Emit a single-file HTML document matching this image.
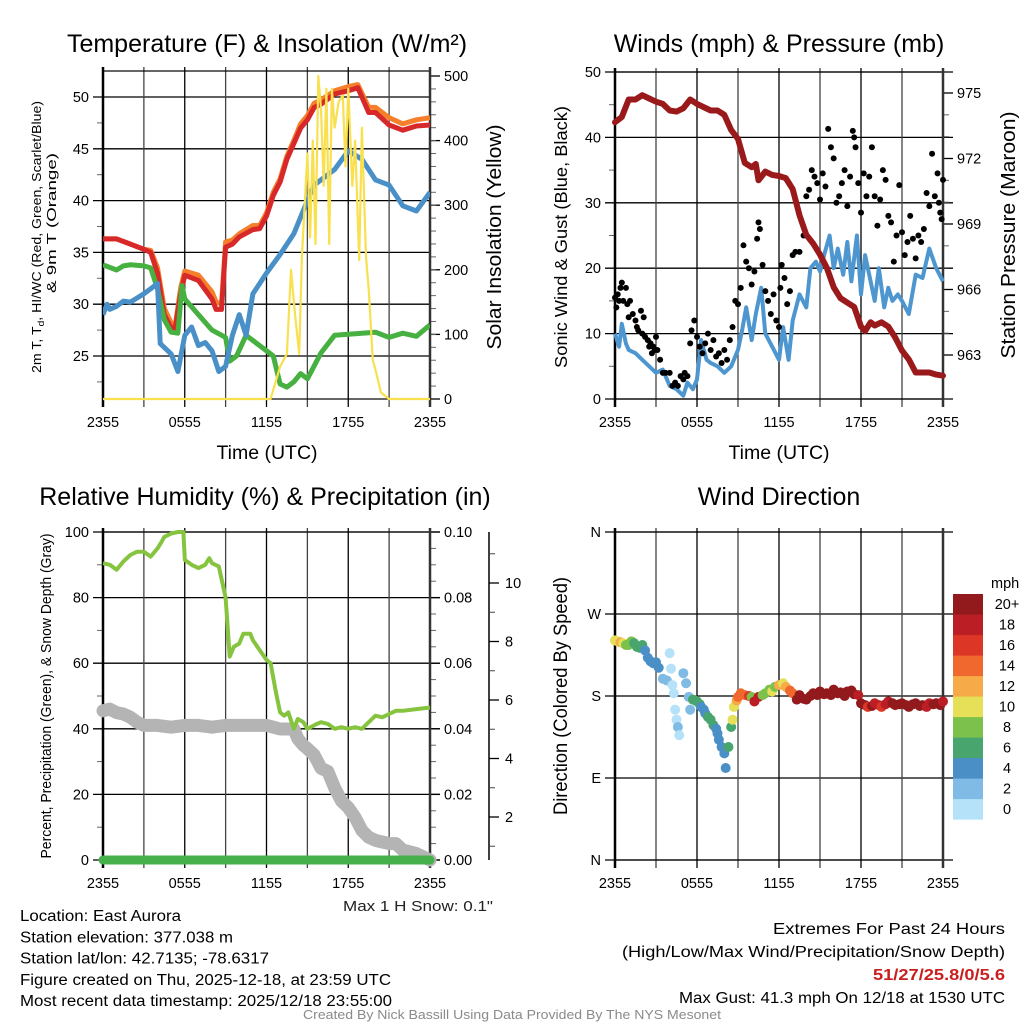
<!DOCTYPE html>
<html><head><meta charset="utf-8"><style>
html,body{margin:0;padding:0;background:#fff;}
svg{display:block;font-family:"Liberation Sans",sans-serif;}
</style></head><body>
<svg id="c" width="1024" height="1024" viewBox="0 0 1024 1024" xmlns="http://www.w3.org/2000/svg"></svg>
<script>
// ===== Panel 1 data: temperature (F) & solar =====
const tHours = [0,1,2,3,3.5,4,4.5,5,5.3,5.7,6,7,8,8.3,8.7,9,9.5,10,11,11.5,12,12.5,13,13.5,14,14.5,15,15.5,16,17,18,18.7,19.5,20,21,22,23,24];
const tempRed = [36.3,36.3,35.8,35.3,35.0,33.0,29.0,27.7,27.7,31.0,32.8,32.3,30.5,29.5,29.5,35.5,35.8,36.5,37.2,37.3,38.5,40.5,41.8,44.0,45.5,47.0,47.8,49.0,49.3,50.3,50.6,50.9,48.5,48.5,47.3,46.8,47.2,47.3];
const tempOrange = [36.3,36.3,35.8,35.3,35.2,33.5,29.6,28.2,27.9,31.6,33.2,32.8,31.2,30.2,30.0,36.0,36.2,36.8,37.6,37.6,38.8,40.8,42.1,44.3,45.8,47.4,48.2,49.4,49.7,50.6,51.0,51.2,49.0,49.0,48.0,47.4,47.8,48.0];
const dewHours = [0,1,1.5,2,3,3.5,4,4.5,5,5.5,5.8,6,7,8,9,9.3,9.8,10.5,11,12,12.5,13,13.5,14,14.5,15,16,17,18,19,20,21,22,23,24];
const dewGreen = [33.8,33.3,33.7,33.8,33.7,33.5,31.5,28.5,27.3,27.2,31.8,30.5,29.0,27.5,26.8,24.5,25.0,27.0,26.5,25.5,25.0,22.3,22.0,22.5,23.3,22.8,25.3,27.0,27.1,27.2,27.3,26.8,27.2,26.9,28.0];
const wcHours = [0,0.3,0.5,1,1.5,2,2.5,3,3.5,4,4.2,5,5.5,6,6.5,7,7.5,8,8.5,9,9.5,10,10.5,11,11.5,12,13,14,15,15.5,16,17,18,19,20,21,22,23,24];
const wcBlue = [29.0,30.0,29.5,29.8,30.3,30.2,30.6,31.0,31.5,32.0,26.2,25.2,23.5,27.0,27.8,26.0,26.3,25.5,23.5,24.0,27.0,29.0,27.0,31.0,32.0,33.0,34.8,36.8,40.0,41.5,42.0,43.0,44.8,44.0,42.0,41.5,39.5,39.0,40.8];
const solHours = [0,12.3,13,13.5,13.8,14.1,14.4,14.6,15,15.2,15.4,15.6,15.8,16,16.2,16.4,16.6,16.8,17,17.3,17.6,17.8,18,18.3,18.5,18.8,19,19.3,19.5,19.8,20,20.4,21,24];
const solar = [0,0,50,70,200,130,70,220,380,250,400,240,500,450,330,480,240,480,420,460,470,360,480,330,400,215,420,220,170,60,45,10,0,0];
// ===== Panel 2 data: wind & pressure =====
const pHours = [0,0.5,1,1.5,2,2.5,3,3.5,4,4.5,5,5.5,6,7,7.5,8,8.5,9,9.5,10,10.3,10.5,11,11.5,12,12.5,13,13.5,14,14.5,15,15.5,16,16.5,17,17.5,18,18.3,18.7,19,19.5,20,20.5,21,21.5,22,22.5,23,23.5,24];
const pressure = [973.66,973.9,974.7,974.7,974.9,974.75,974.6,974.5,974.2,974.15,974.3,974.7,974.5,974.2,974.2,974.0,973.3,972.9,971.8,971.6,971.75,971.0,971.4,971.25,971.2,971.1,970.6,969.4,968.5,968.1,967.6,967.0,966.1,965.6,965.4,965.2,964.3,964.1,964.5,964.35,964.5,964.3,963.8,963.2,962.8,962.2,962.2,962.2,962.1,962.05];
const windHours = [0,0.3,0.5,0.8,1,1.5,2,2.5,3,3.5,4,4.5,5,5.3,5.7,6,6.3,6.7,7,7.5,8,8.5,9,9.3,9.6,10,10.3,10.7,11,11.5,12,12.3,12.7,13,13.5,14,14.3,14.7,15,15.3,15.7,16,16.3,16.7,17,17.3,17.7,18,18.3,18.7,19,19.3,19.7,20,20.3,20.7,21,21.5,22,22.5,23,23.5,24];
const windSpeed = [10,8,11.5,8.5,7.5,7,6,5,4,4.5,2,1.5,0.5,2.5,1.5,3,9,6,5.5,5,4,5,7.5,10.5,14,9,13,17,10,8,6,11,6,12,16,14,20,21,19.5,22,25,20,23,19,24,18,25,16,22,18,15,20,14,17,15,16,15,13,19,18.5,23,20,18];
const gustHours = [0,0.1,0.2,0.3,0.4,0.5,0.6,0.8,0.9,1,1.1,1.3,1.5,1.6,1.7,1.9,2,2.1,2.2,2.4,2.5,2.6,2.7,2.8,2.9,3,3.1,3.3,3.5,3.7,4,4.2,4.4,4.6,4.8,5,5.1,5.3,5.5,5.6,5.8,6,6.2,6.4,6.6,6.8,7,7.2,7.4,7.6,7.8,8,8.2,8.4,8.6,8.8,9,9.2,9.4,9.6,9.8,10,10.2,10.4,10.5,10.6,10.8,11,11.2,11.4,11.6,11.8,12,12.1,12.2,12.4,12.6,12.8,13,13.2,13.5,13.8,14,14.2,14.4,14.6,14.8,15,15.2,15.4,15.6,15.8,16,16.2,16.4,16.6,16.8,17,17.2,17.4,17.5,17.6,17.8,18,18.2,18.4,18.6,18.8,19,19.2,19.4,19.6,19.8,20,20.2,20.4,20.6,20.8,21,21.2,21.4,21.6,21.8,22,22.2,22.4,22.6,22.8,23,23.2,23.4,23.6,23.8,24,23.9,23.7];
const gustSpeed = [15.5,14,16,15,17,17.8,15,17,14.5,12.5,15,13,12,11,10.5,13.5,10,12.5,9.5,9,8,8.5,7,8,7.5,9.5,7.5,6,4,4,4,2,2.5,2,3.5,3,4,3.5,8.5,10.5,12,9.5,8,7,8.5,10,7.5,9,6.5,7,5.5,7.5,6,9,11,15,14.5,17,23.5,21,20,17.5,19.5,24.5,27,26,20.5,16.5,15,13,16,12,11,17,20.5,18.5,14.5,16.5,22,22.5,22.5,25,31,32,35,34,33,30.5,34.5,32.5,41.3,38.5,36.8,30,31,33,35,29.5,34,41,40,38.5,33,28.5,34.5,31,34,38.5,31,26.5,30.5,35,33.5,28,27,21,25,32.7,25.5,22,24,28,24.5,21.5,25,24,26,31.5,29.5,37.5,31,34.5,28.5,33.5,27.5,30];
// ===== Panel 3 data: RH, precip, snow depth =====
const rhHours = [0,0.5,1,1.5,2,2.5,3,3.5,4,4.3,4.5,5,5.5,5.9,6,6.5,7,7.5,7.8,8,8.5,9,9.3,9.6,10,10.3,10.8,11,11.5,12,12.3,12.7,13,13.3,13.6,14,14.3,14.7,15,15.7,16,16.5,17,17.5,18,18.5,19,19.5,20,20.5,21,21.5,22,23,24];
const rh = [90.5,90,88.5,91,93,94,94,92.5,95,97,98.5,99.5,100,100,91.5,90,89,90,92,90.5,89.5,80,62,65,66,69,69,67,64,61,60,51,45,44,45,40,43,42,40,41.5,42,41.5,40,40.5,40,40.5,40,42,44,43.5,44.5,45.5,45.5,46,46.5];
const snowHours = [0,0.5,1,1.5,2,2.5,3,4,5,6,7,8,9,10,11,12,12.5,13,14,14.3,14.7,15,15.5,16,16.5,17,17.5,18,18.5,19,19.5,20,21,21.5,22,23,24];
const snowDepth = [5.63,5.69,5.57,5.52,5.41,5.24,5.13,5.13,5.07,5.13,5.13,5.07,5.13,5.13,5.13,5.13,5.07,5.01,5.01,4.68,4.45,4.34,4.12,3.67,3.56,3.0,2.55,2.32,1.99,1.54,1.31,1.2,1.09,1.09,0.87,0.75,0.53];
const precipHours = [0,24];
const precip = [0,0];
// ===== Panel 4 data: wind direction (deg) colored by speed =====
const dirHours = [0,0.2,0.4,0.6,0.8,1,1.2,1.4,1.6,1.8,2,2.2,2.4,2.6,2.8,3,3.2,3.5,3.8,4,4.1,4.2,4.3,4.4,4.5,4.6,4.7,5,5.2,5.4,5.5,5.7,5.9,6,6.2,6.3,6.5,6.6,6.8,7,7.2,7.4,7.5,7.6,7.8,8,8.1,8.3,8.5,8.6,8.7,8.9,9,9.2,9.5,9.8,10,10.2,10.5,10.8,11,11.3,11.5,11.7,12,12.3,12.5,12.8,13,13.3,13.5,13.8,14,14.3,14.5,14.8,15,15.3,15.5,15.8,16,16.3,16.5,16.8,17,17.3,17.5,17.8,18,18.3,18.5,18.8,19,19.3,19.5,19.8,20,20.3,20.5,20.8,21,21.3,21.5,21.8,22,22.3,22.5,22.8,23,23.3,23.5,23.8,24];
const dirDeg = [241,240,239,238,236,236,240,238,234,233,236,230,222,218,216,217,211,199,197,227,210,192,183,165,154,146,137,205,194,179,165,176,175,174,171,168,165,161,157,154,148,144,139,132,124,117,101,124,146,154,168,175,179,183,181,180,179,174,179,181,183,187,185,190,192,194,190,186,183,176,181,177,176,180,183,181,185,182,183,181,187,183,184,180,185,186,182,181,172,170,168,169,172,170,168,171,174,172,170,171,172,170,168,171,172,169,170,168,172,171,172,170,174];
const dirSpeed = [10,10,12,11,9,8,8,7,6,7,6,5,4,4,4,4,4,3,3,0,0,1,1,1,0,2,0,2,2,2,3,6,7,7,6,4,5,5,6,6,6,4,4,4,4,4,4,6,6,10,10,12,14,15,15,16,8,18,18,8,9,8,10,9,12,10,12,14,15,20,20,20,20,20,20,20,20,20,20,20,20,20,20,20,20,20,20,18,20,20,16,20,18,18,16,18,18,20,20,20,20,20,20,20,20,20,20,18,18,20,20,20,18];
const speedColors = ['#b5e2f8','#7fbbe4','#4a8fc6','#48a56e','#7bc14b','#e5e057','#f6aa48','#f0682d','#dc3627','#bb1e25','#921a1c'];
const speedLabels = ['0','2','4','6','8','10','12','14','16','18','20+'];
const timeLabels = ['2355','0555','1155','1755','2355'];

const NS = 'http://www.w3.org/2000/svg';
const svg = document.getElementById('c');
function mk(tag, attrs, parent, text){
  const e = document.createElementNS(NS, tag);
  for (const k in attrs) e.setAttribute(k, attrs[k]);
  if (text !== undefined) e.textContent = text;
  (parent || svg).appendChild(e);
  return e;
}
function lin(d0,d1,r0,r1){ return v => r0 + (v-d0)*(r1-r0)/(d1-d0); }
function pathD(xs, ys, fx, fy){ return xs.map((h,i)=>(i?'L':'M')+fx(h).toFixed(1)+','+fy(ys[i]).toFixed(1)).join(''); }

function frame(g, x0, x1, y0, y1, xLabels){
  const fx = lin(0,24,x0,x1);
  for (let h=0; h<=24; h+=3){
    const l = mk('line',{x1:fx(h),x2:fx(h),y1:y0-4,y2:y1+8,stroke:(h%6===0?'#000':'#444'),'stroke-width':1.3},g);
    
    
  }
  if (xLabels){
    timeLabels.forEach((t,i)=>{
      const tx = mk('text',{x:fx(i*6),y:y1+28,'text-anchor':'middle','font-size':14.5},g,t);
      
      
    });
  }
  const b = mk('rect',{x:x0,y:y0,width:x1-x0,height:y1-y0,fill:'none',stroke:'#000','stroke-width':1.2},g);
  
  
  mk('line',{x1:x0,x2:x0,y1:y0-4,y2:y1+8,stroke:'#000','stroke-width':2.5},g);
  mk('line',{x1:x1,x2:x1,y1:y0-4,y2:y1+8,stroke:'#333','stroke-width':2.5},g);
  return fx;
}
function yAxis(g, x0, x1, fy, ticks, labels, side, minor, gridOn){
  ticks.forEach((v,i)=>{
    const y = fy(v);
    if (side==='left'){
      mk('line',{x1:x0-10,x2:gridOn? x1+ (gridOn===2?10:0):x0,y1:y,y2:y,stroke:'#000','stroke-width':1.3},g);
      const t = mk('text',{x:x0-14,y:y+5,'text-anchor':'end','font-size':14.5},g,labels[i]);
      
      
    } else {
      mk('line',{x1:x1,x2:x1+10,y1:y,y2:y,stroke:'#000','stroke-width':1.3},g);
      const t = mk('text',{x:x1+14,y:y+5,'text-anchor':'start','font-size':14.5},g,labels[i]);
      
      
    }
  });
  (minor||[]).forEach(v=>{
    const y = fy(v);
    if (side==='left') mk('line',{x1:x0-6,x2:x0,y1:y,y2:y,stroke:'#666','stroke-width':1},g);
    else mk('line',{x1:x1,x2:x1+6,y1:y,y2:y,stroke:'#666','stroke-width':1},g);
  });
}
function title(x,y,txt,name){
  const t = mk('text',{x:x,y:y,'text-anchor':'middle','font-size':25},svg,txt);
  
  
  return t;
}
function vlabel(x,y,txt,size,name,len){
  const a = {x:0,y:0,'text-anchor':'middle','font-size':size,transform:`translate(${x},${y}) rotate(-90)`};
  if (len){ a.textLength=len; a.lengthAdjust='spacingAndGlyphs'; }
  const t = mk('text',a,svg,txt);
  
  
  return t;
}
function range(a,b,s){ const r=[]; for(let v=a; v<=b+1e-9; v+=s) r.push(+v.toFixed(4)); return r; }

// ---------- Panel 1 ----------
{
  const g = mk('g',{});
  
  
  const x0=103,x1=430,y0=71,y1=399;
  const fyT = lin(25,50,356,97);
  const fyS = lin(0,500,399,76);
  yAxis(g,x0,x1,fyT,[25,30,35,40,45,50],['25','30','35','40','45','50'],'left',[22.5,27.5,32.5,37.5,42.5,47.5],true);
  yAxis(g,x0,x1,fyS,[0,100,200,300,400,500],['0','100','200','300','400','500'],'right',range(20,480,20));
  const fx = frame(g,x0,x1,y0,y1,true);
  const clip = mk('clipPath',{id:'cp1'},g); mk('rect',{x:x0,y:y0,width:x1-x0,height:y1-y0},clip);
  const d = mk('g',{'clip-path':'url(#cp1)'},g);
  const s1 = mk('path',{d:pathD(tHours,tempOrange,fx,fyT),fill:'none',stroke:'#f57f2a','stroke-width':5,'stroke-linejoin':'round'},d);
   
  const s2 = mk('path',{d:pathD(tHours,tempRed,fx,fyT),fill:'none',stroke:'#d7282a','stroke-width':5,'stroke-linejoin':'round'},d);
   
  const s3 = mk('path',{d:pathD(dewHours,dewGreen,fx,fyT),fill:'none',stroke:'#46b040','stroke-width':5,'stroke-linejoin':'round'},d);
   
  const s4 = mk('path',{d:pathD(wcHours,wcBlue,fx,fyT),fill:'none',stroke:'#4a90c8','stroke-width':5,'stroke-linejoin':'round'},d);
   
  const s5 = mk('path',{d:pathD(solHours,solar,fx,fyS),fill:'none',stroke:'#f8e04f','stroke-width':2.2,'stroke-linejoin':'round'},g);
   
  title(267,52,'Temperature (F) & Insolation (W/m²)','temperature-title');
  const xt = mk('text',{x:267,y:459,'text-anchor':'middle','font-size':19.5},svg,'Time (UTC)');
   
  const yl = mk('text',{x:0,y:0,'text-anchor':'middle','font-size':12.5,textLength:272,lengthAdjust:'spacingAndGlyphs',transform:'translate(41,237) rotate(-90)'},svg);
   
  mk('tspan',{},yl,'2m T, T');
  mk('tspan',{'font-size':9,dy:3},yl,'d');
  mk('tspan',{dy:-3},yl,', HI/WC (Red, Green, Scarlet/Blue)');
  vlabel(56,223,'& 9m T (Orange)',12.5,'y-axis-title-line2',140);
  vlabel(501,237,'Solar Insolation (Yellow)',20.5,'y2-axis-title',225);
}
// ---------- Panel 2 ----------
{
  const g = mk('g',{});
  
  
  const x0=615,x1=943,y0=72,y1=399;
  const fyW = lin(0,50,399,72);
  const fyP = lin(963,975,355,93);
  yAxis(g,x0,x1,fyW,[0,10,20,30,40,50],['0','10','20','30','40','50'],'left',[5,15,25,35,45],2);
  yAxis(g,x0,x1,fyP,[963,966,969,972,975],['963','966','969','972','975'],'right',[964,965,967,968,970,971,973,974]);
  const fx = frame(g,x0,x1,y0,y1,true);
  const s1 = mk('path',{d:pathD(windHours,windSpeed,fx,fyW),fill:'none',stroke:'#4d96d0','stroke-width':4,'stroke-linejoin':'round'},g);
   
  gustHours.forEach((h,i)=>{
    const c = mk('circle',{cx:fx(h),cy:fyW(gustSpeed[i]),r:3,fill:'#000'},g);
    
    
  });
  const s2 = mk('path',{d:pathD(pHours,pressure,fx,fyP),fill:'none',stroke:'#9a1a1b','stroke-width':6,'stroke-linejoin':'round','stroke-linecap':'round'},g);
   
  title(779,52,'Winds (mph) & Pressure (mb)','winds-title');
  const xt = mk('text',{x:779,y:459,'text-anchor':'middle','font-size':19.5},svg,'Time (UTC)');
   
  vlabel(567,237,'Sonic Wind & Gust (Blue, Black)',17.5,'y-axis-title-winds',262);
  vlabel(1015,235,'Station Pressure (Maroon)',20.5,'y2-axis-title-pressure',247);
}
// ---------- Panel 3 ----------
{
  const g = mk('g',{});
  
  
  const x0=103,x1=430,y0=532,y1=860;
  const fyR = lin(0,100,860,532);
  const fyPr = lin(0,0.1,860,532);
  const fySn = lin(0,10,875.5,583);
  yAxis(g,x0,x1,fyR,[0,20,40,60,80,100],['0','20','40','60','80','100'],'left',[10,30,50,70,90],2);
  yAxis(g,x0,x1,fyPr,[0,0.02,0.04,0.06,0.08,0.1],['0.00','0.02','0.04','0.06','0.08','0.10'],'right',range(0.005,0.095,0.005).filter(v=>Math.abs(v*50-Math.round(v*50))>1e-6));
  const fx = frame(g,x0,x1,y0,y1,true);
  mk('line',{x1:489,x2:489,y1:532,y2:860,stroke:'#000','stroke-width':1.5},g);
  [2,4,6,8,10].forEach(v=>{
    mk('line',{x1:489,x2:499,y1:fySn(v),y2:fySn(v),stroke:'#000','stroke-width':1.3},g);
    const t = mk('text',{x:505,y:fySn(v)+5,'font-size':14.5},g,String(v));
     
  });
  range(1,11,1).filter(v=>v%2).forEach(v=>mk('line',{x1:489,x2:495,y1:fySn(v),y2:fySn(v),stroke:'#444','stroke-width':1},g));
  const s1 = mk('path',{d:pathD(snowHours,snowDepth,fx,fySn),fill:'none',stroke:'#b4b4b4','stroke-width':13,'stroke-linejoin':'round','stroke-linecap':'round'},g);
   
  const s2 = mk('path',{d:pathD(rhHours,rh,fx,fyR),fill:'none',stroke:'#86c440','stroke-width':4,'stroke-linejoin':'round'},g);
   
  const s3 = mk('path',{d:pathD(precipHours,precip,fx,fyPr),fill:'none',stroke:'#46b04a','stroke-width':9,'stroke-linecap':'round'},g);
   
  title(265,505,'Relative Humidity (%) & Precipitation (in)','humidity-title');
  vlabel(51,696,'Percent, Precipitation (Green), & Snow Depth (Gray)',14.5,'y-axis-title-rh',325);
  const sn = mk('text',{x:493,y:911,'text-anchor':'end','font-size':15,textLength:150,lengthAdjust:'spacingAndGlyphs',fill:'#222'},svg,'Max 1 H Snow: 0.1"');
   
}
// ---------- Panel 4 ----------
{
  const g = mk('g',{});
  
  
  const x0=615,x1=943,y0=532,y1=860;
  const fyD = lin(0,360,860,532);
  yAxis(g,x0,x1,fyD,[0,90,180,270,360],['N','E','S','W','N'],'left',[],2);
  const fx = frame(g,x0,x1,y0,y1,true);
  dirHours.forEach((h,i)=>{
    const ci = Math.min(10, Math.floor(dirSpeed[i]/2));
    const c = mk('circle',{cx:fx(h),cy:fyD(dirDeg[i]),r:5,fill:speedColors[ci]},g);
    
    
  });
  title(779,505,'Wind Direction','wind-direction-title');
  vlabel(567,696,'Direction (Colored By Speed)',19.5,'y-axis-title-direction',238);
  const lg = mk('g',{},svg);
   
  mk('text',{x:991,y:588,'font-size':14.5},lg,'mph');
  speedColors.forEach((c,i)=>{
    const k = 10-i;
    const y = 594 + k*20.5;
    const r = mk('rect',{x:953,y:y,width:30,height:20.6,fill:c},lg);
     
    const t = mk('text',{x:1007,y:y+15,'text-anchor':'middle','font-size':14.5},lg,speedLabels[i]);
     
  });
}
// ---------- Footer ----------
{
  const left = [['Location: East Aurora',161],['Station elevation: 377.038 m',213],['Station lat/lon: 42.7135; -78.6317',249],['Figure created on Thu, 2025-12-18, at 23:59 UTC',371],['Most recent data timestamp: 2025/12/18 23:55:00',372]];
  left.forEach((l,i)=>{
    const t = mk('text',{x:20,y:921+i*21.3,'font-size':15.5,textLength:l[1],lengthAdjust:'spacingAndGlyphs'},svg,l[0]);
     
  });
  const right = [['Extremes For Past 24 Hours',232,934,'#000','normal'],['(High/Low/Max Wind/Precipitation/Snow Depth)',383,957,'#000','normal'],['51/27/25.8/0/5.6',132,980,'#c8201f','bold'],['Max Gust: 41.3 mph On 12/18 at 1530 UTC',326,1003,'#000','normal']];
  right.forEach(l=>{
    const t = mk('text',{x:1005,y:l[2],'text-anchor':'end','font-size':15.5,fill:l[3],'font-weight':l[4],textLength:l[1],lengthAdjust:'spacingAndGlyphs'},svg,l[0]);
     
  });
  const cr = mk('text',{x:512,y:1019,'text-anchor':'middle','font-size':12.5,fill:'#8a8a8a',textLength:418,lengthAdjust:'spacingAndGlyphs'},svg,'Created By Nick Bassill Using Data Provided By The NYS Mesonet');
   
}
</script>
</body></html>
